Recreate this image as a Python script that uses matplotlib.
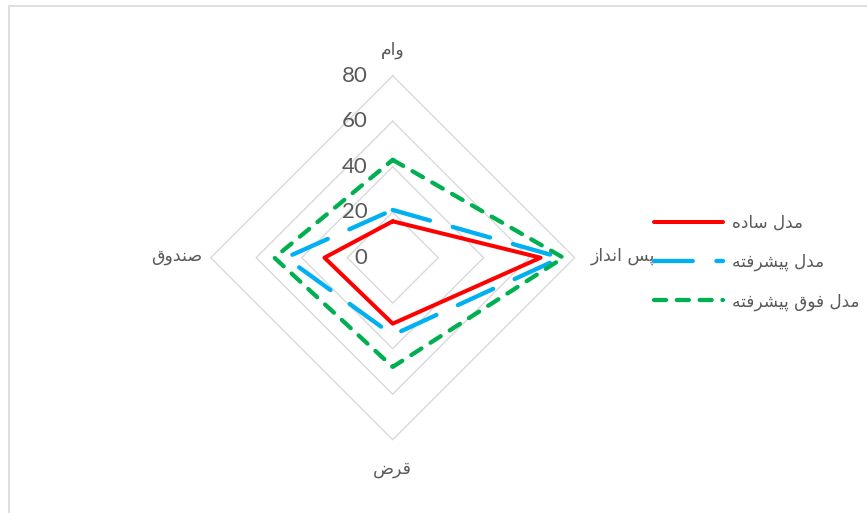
import numpy as np
import matplotlib
matplotlib.use("Agg")
import matplotlib.pyplot as plt
from matplotlib.transforms import ScaledTranslation
from matplotlib.patches import Rectangle

# ---------------- data ----------------
categories = ['وام', 'پس انداز', 'قرض', 'صندوق']
series_names = ['مدل ساده', 'مدل پیشرفته', 'مدل فوق پیشرفته']
simple_vals = [16, 65, 29, 30]
advanced_vals = [21, 74, 34, 47]
super_vals = [43, 75, 48, 52]
r_ticks = [0, 20, 40, 60, 80]
r_tick_labels = ['0', '20', '40', '60', '80']

# ---------------- simple Arabic/Persian shaping ----------------
FORMS = {
    'ا': ('\uFE8D', '\uFE8E', None, None),
    'د': ('\uFEA9', '\uFEAA', None, None),
    'ر': ('\uFEAD', '\uFEAE', None, None),
    'ز': ('\uFEAF', '\uFEB0', None, None),
    'و': ('\uFEED', '\uFEEE', None, None),
    'م': ('\uFEE1', '\uFEE2', '\uFEE3', '\uFEE4'),
    'س': ('\uFEB1', '\uFEB2', '\uFEB3', '\uFEB4'),
    'ش': ('\uFEB5', '\uFEB6', '\uFEB7', '\uFEB8'),
    'ص': ('\uFEB9', '\uFEBA', '\uFEBB', '\uFEBC'),
    'ض': ('\uFEBD', '\uFEBE', '\uFEBF', '\uFEC0'),
    'ف': ('\uFED1', '\uFED2', '\uFED3', '\uFED4'),
    'ق': ('\uFED5', '\uFED6', '\uFED7', '\uFED8'),
    'ل': ('\uFEDD', '\uFEDE', '\uFEDF', '\uFEE0'),
    'ن': ('\uFEE5', '\uFEE6', '\uFEE7', '\uFEE8'),
    'ه': ('\uFEE9', '\uFEEA', '\uFEEB', '\uFEEC'),
    'ت': ('\uFE95', '\uFE96', '\uFE97', '\uFE98'),
    'پ': ('\uFB56', '\uFB57', '\uFB58', '\uFB59'),
    'ی': ('\uFBFC', '\uFBFD', '\uFBFE', '\uFBFF'),
}


def shape(s):
    out = []
    n = len(s)
    for i, ch in enumerate(s):
        if ch not in FORMS:
            out.append(ch)
            continue
        prev = s[i - 1] if i > 0 else None
        nxt = s[i + 1] if i < n - 1 else None
        join_prev = prev in FORMS and FORMS[prev][2] is not None
        join_next = FORMS[ch][2] is not None and nxt in FORMS
        iso, fin, ini, med = FORMS[ch]
        if join_prev and join_next:
            out.append(med)
        elif join_prev:
            out.append(fin)
        elif join_next:
            out.append(ini)
        else:
            out.append(iso)
    return ''.join(out)[::-1]


# ---------------- figure ----------------
W, H, DPI = 867, 513, 100
fig = plt.figure(figsize=(W / DPI, H / DPI), dpi=DPI)
fig.patch.set_facecolor('white')

cx, cy, R = 392.7, 257.7, 182.0
ax = fig.add_axes([(cx - R) / W, (H - cy - R) / H, 2 * R / W, 2 * R / H],
                  projection='polar')
ax.set_theta_zero_location('N')
ax.set_theta_direction(-1)
ax.set_ylim(0, r_ticks[-1])
ax.set_facecolor('none')
ax.grid(False)
ax.spines['polar'].set_visible(False)
ax.set_xticks([])
ax.set_yticks([])

n = len(categories)
angles = np.arange(n) * 2 * np.pi / n
ang_c = np.append(angles, angles[0])

grid_col = '#d9d9d9'
for r in r_ticks[1:]:
    ax.plot(ang_c, [r] * (n + 1), color=grid_col, lw=1.0, clip_on=False, zorder=1)

text_col = '#595959'


def off(dx, dy):
    return ax.transData + ScaledTranslation(dx / DPI, dy / DPI, fig.dpi_scale_trans)


for r, lab in zip(r_ticks, r_tick_labels):
    ax.text(0, r, lab, transform=off(-25, 0), ha='right', va='center',
            fontsize=16, color=text_col, family='Lato')

pfont = dict(fontsize=12.5, color=text_col, family='DejaVu Sans')
rmax = r_ticks[-1]
ax.text(angles[0], rmax, shape(categories[0]), transform=off(0, 26), ha='center', va='center', **pfont)
ax.text(angles[1], rmax, shape(categories[1]), transform=off(16, 2), ha='left', va='center', **pfont)
ax.text(angles[2], rmax, shape(categories[2]), transform=off(0, -29), ha='center', va='center', **pfont)
ax.text(angles[3], rmax, shape(categories[3]), transform=off(-8, 2), ha='right', va='center', **pfont)

colors = ['#ff0000', '#00b0f0', '#00b050']
lw = 3.1
l1, = ax.plot(ang_c, simple_vals + simple_vals[:1], color=colors[0], lw=2.9,
              solid_joinstyle='round', solid_capstyle='round', clip_on=False, zorder=3)
l2, = ax.plot(ang_c, advanced_vals + advanced_vals[:1], color=colors[1], lw=lw,
              dashes=(9.0, 5.5), dash_capstyle='round', dash_joinstyle='round',
              clip_on=False, zorder=4)
l3, = ax.plot(ang_c, super_vals + super_vals[:1], color=colors[2], lw=lw,
              dashes=(2.8, 2.5), dash_capstyle='round', dash_joinstyle='round',
              clip_on=False, zorder=5)

leg = fig.legend([l1, l2, l3], [shape(s) for s in series_names],
                 loc='center left', bbox_to_anchor=(654 / W, (H - 262) / H),
                 frameon=False, borderpad=0, borderaxespad=0,
                 handlelength=4.1, handletextpad=0.5, labelspacing=1.25,
                 prop={'family': 'DejaVu Sans', 'size': 12.2})
for t in leg.get_texts():
    t.set_color(text_col)

# outer chart-area border
fig.patches.append(Rectangle((8.5 / W, -0.1), 1.2, (H - 5.5) / H + 0.1,
                             transform=fig.transFigure, fill=False,
                             edgecolor='#d9d9d9', lw=1.2))

fig.savefig('out.png', dpi=DPI)
